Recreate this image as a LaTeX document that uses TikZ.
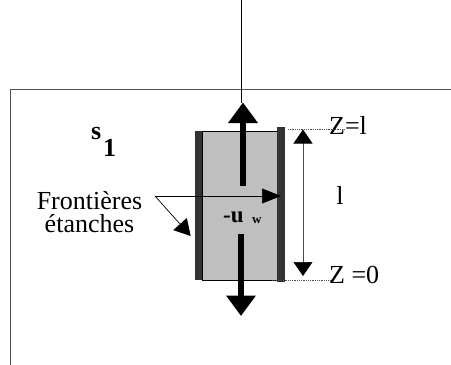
\documentclass[tikz,border=0pt]{standalone}
\usepackage{fontspec}
\setmainfont{Liberation Serif}
\usepackage{tikz}
\usetikzlibrary{arrows.meta, positioning}
\definecolor{wallgray}{RGB}{51,51,51}
\definecolor{tubegray}{RGB}{191,191,191}
\definecolor{framegray}{RGB}{80,80,80}
\tikzset{
  basetext/.style={inner sep=0pt, align=center, font=\fontsize{26}{23}\selectfont},
  boldtext/.style={inner sep=0pt, font=\fontsize{26}{26}\selectfont\bfseries},
  tubebox/.style={rectangle, draw=black, fill=tubegray, line width=0.7pt, inner sep=0pt, minimum width=75pt, minimum height=149pt},
  wallbox/.style={rectangle, fill=wallgray, inner sep=0pt, minimum width=7.5pt},
  framelines/.style={draw=framegray, line width=1pt},
  bigarrow/.style={-{Triangle[length=20.5pt, width=28.5pt]}, line width=5.2pt},
  thinarrow/.style={-{Triangle[length=19pt, width=15pt]}, line width=0.7pt},
  diagarrow/.style={-{Triangle[length=16pt, width=18pt]}, line width=0.7pt},
  heightarrow/.style={{Triangle[length=14pt, width=19pt, black]}-{Triangle[length=14pt, width=19pt, black]}, line width=0.7pt, color=black!70},
  levelline/.style={densely dotted, line width=0.8pt, color=black!70}
}
\begin{document}
\begin{tikzpicture}[x=1pt, y=-1pt]
  \useasboundingbox (0,0) rectangle (451,365);

  % outer domain
  \coordinate (framebottom) at (10.5,365);
  \coordinate (framecorner) at (10.5,89.5);
  \coordinate (frameright) at (451,89.5);
  \draw[framelines] (framebottom) -- (framecorner) -- (frameright);

  % tube and walls
  \node[tubebox] (tube) at (239.5,205.5) {};
  \node[wallbox, minimum height=149pt] (leftwall) at (198.5,205.5) {};
  \node[wallbox, minimum height=155pt] (rightwall) at (281,204.5) {};

  % labels
  \node[boldtext, anchor=base west] (sone) at (103,156) {1};
  \node[boldtext, left=1.5pt of sone.base west, anchor=base east, yshift=17pt] (stext) {s};
  \node[basetext] (frontieres) at (89.5,212) {Frontières\\étanches};
  \node[basetext, anchor=base west] (zone) at (329,134) {Z=l};
  \node[basetext, anchor=base west] (zzero) at (329,283) {Z =0};
  \node[basetext, anchor=base] (length) at (340,204) {l};
  \node[inner sep=0pt, anchor=base west, font=\fontsize{23}{23}\selectfont\bfseries] (uw) at (223,222) {-u};
  \node[inner sep=0pt, anchor=base west, font=\fontsize{13}{13}\selectfont\bfseries] (wsub) at (252,223) {w};

  % thin vertical line and flow arrows
  \coordinate (topend) at (241.3,0);
  \coordinate (uptip) at (241.3,103);
  \coordinate (upstart) at (243,186);
  \coordinate (upend) at (243,102.5);
  \coordinate (downstart) at (241,234);
  \coordinate (downend) at (241,316);
  \draw[line width=0.7pt] (topend) -- (uptip);
  \draw[bigarrow] (upstart) -- (upend);
  \draw[bigarrow] (downstart) -- (downend);

  % leader arrows from the text
  \coordinate (leader) at (155,196);
  \coordinate (walltip) at (281,196);
  \coordinate (lefttip) at (190.7,236);
  \draw[thinarrow] (leader) -- (walltip);
  \draw[diagarrow] (leader) -- (lefttip);

  % height
  \coordinate (heighttop) at (303,129.5);
  \coordinate (heightbottom) at (303,276);
  \draw[heightarrow] (heighttop) -- (heightbottom);

  % level lines
  \coordinate (levelonestart) at (288,129);
  \coordinate (leveloneend) at (345,129);
  \coordinate (levelzerostart) at (272,280);
  \coordinate (levelzeroend) at (330,280);
  \draw[levelline] (levelonestart) -- (leveloneend);
  \draw[levelline] (levelzerostart) -- (levelzeroend);
\end{tikzpicture}
\end{document}
